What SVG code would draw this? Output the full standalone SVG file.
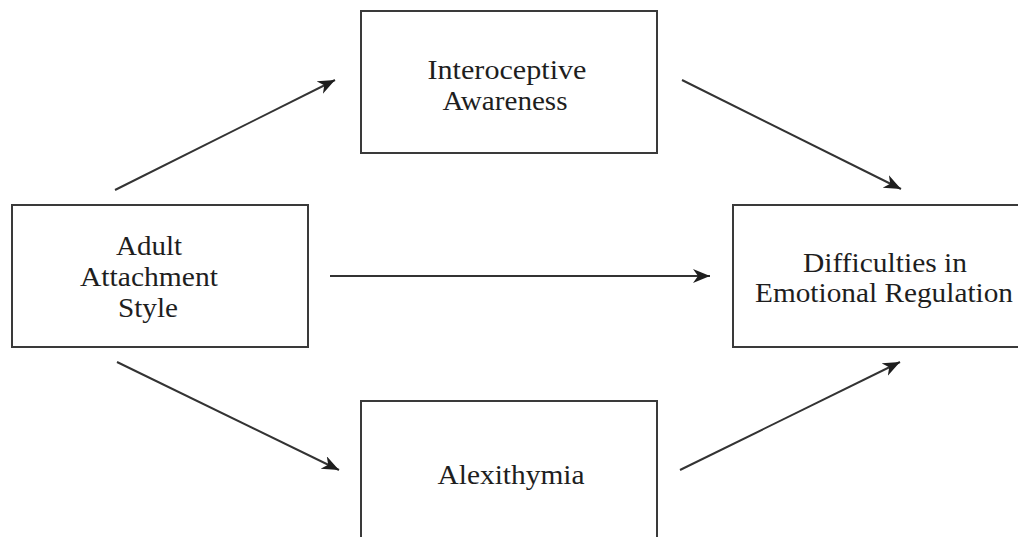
<svg xmlns="http://www.w3.org/2000/svg" width="1018" height="537" viewBox="0 0 1018 537">
  <style>
    .box { fill: #ffffff; stroke: #3a3a3a; stroke-width: 2; }
    .lbl { font-size: 27px; fill: #1e1e1e; text-anchor: middle; }
    .edge { stroke: #333333; stroke-width: 2; fill: none; marker-end: url(#arrow); }
  </style>
  <defs>
    <marker id="arrow" markerUnits="userSpaceOnUse" markerWidth="20" markerHeight="16" refX="17" refY="7" orient="auto">
      <path d="M0,0 L17,7 L0,14 L5,7 Z" fill="#1e1e1e"/>
    </marker>
  </defs>
  <rect width="1018" height="537" fill="#ffffff"/>

  <g id="connectors">
    <line class="edge" x1="115" y1="190" x2="335" y2="80"/>
    <line class="edge" x1="682" y1="80" x2="901" y2="189"/>
    <line class="edge" x1="330" y1="276" x2="710" y2="276"/>
    <line class="edge" x1="117" y1="362" x2="339" y2="470"/>
    <line class="edge" x1="680" y1="470" x2="900" y2="362"/>
  </g>

  <g font-family="Liberation Serif, Times New Roman, Tinos, serif">
  <g id="node-adult">
    <rect class="box" x="12" y="205" width="296" height="142"/>
    <text class="lbl" x="149" y="255" textLength="66" lengthAdjust="spacingAndGlyphs">Adult</text>
    <text class="lbl" x="149" y="286" textLength="138" lengthAdjust="spacingAndGlyphs">Attachment</text>
    <text class="lbl" x="148" y="317" textLength="60" lengthAdjust="spacingAndGlyphs">Style</text>
  </g>

  <g id="node-interoceptive">
    <rect class="box" x="361" y="11" width="296" height="142"/>
    <text class="lbl" x="507" y="79" textLength="159" lengthAdjust="spacingAndGlyphs">Interoceptive</text>
    <text class="lbl" x="505" y="110" textLength="125" lengthAdjust="spacingAndGlyphs">Awareness</text>
  </g>

  <g id="node-alexithymia">
    <rect class="box" x="361" y="401" width="296" height="160"/>
    <text class="lbl" x="511" y="484" textLength="147" lengthAdjust="spacingAndGlyphs">Alexithymia</text>
  </g>

  <g id="node-difficulties">
    <rect class="box" x="733" y="205" width="300" height="142"/>
    <text class="lbl" x="885" y="272" textLength="164" lengthAdjust="spacingAndGlyphs">Difficulties in</text>
    <text class="lbl" x="884" y="302" textLength="258" lengthAdjust="spacingAndGlyphs">Emotional Regulation</text>
  </g>
  </g>
</svg>
